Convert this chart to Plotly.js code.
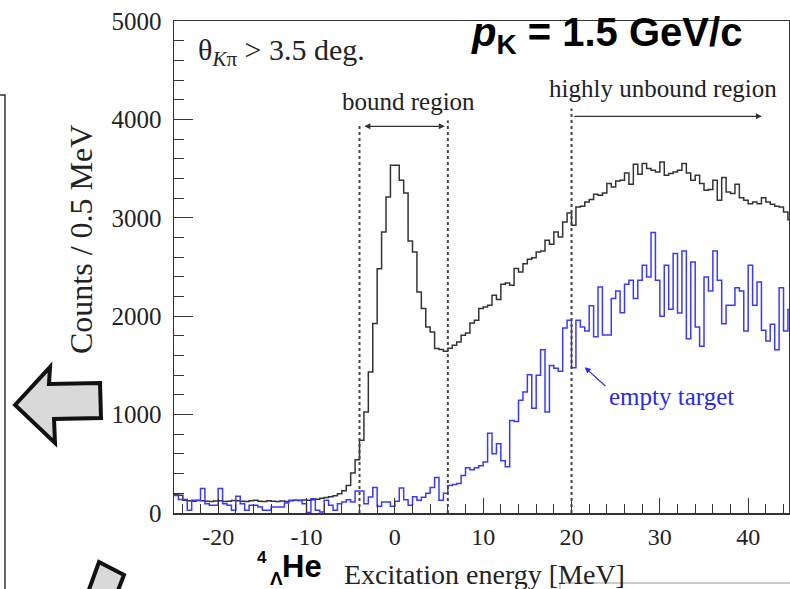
<!DOCTYPE html>
<html>
<head>
<meta charset="utf-8">
<script src="https://cdn.plot.ly/plotly-3.0.1.min.js"></script>
<style>html,body{margin:0;padding:0;background:#fff;}#chart{width:790px;height:589px;}</style>
</head>
<body>
<div id="chart"></div>
<script>
// Histogram binning: 0.5 MeV bins starting at -25 MeV
const binLow = -25;
const binWidth = 0.5;

// Target (black) histogram counts per 0.5 MeV bin, from -25 to 45 MeV
const targetCounts = [
  190,180,130,125,120,128,125,120,118,122,
  125,118,120,128,125,120,118,125,130,120,
  118,125,120,118,122,118,125,130,128,132,
  130,135,140,150,158,165,175,195,225,280,
  407,540,739,1027,1434,1925,2483,2856,3211,3533,
  3533,3381,3252,2764,2652,2246,2077,1891,1840,1671,
  1661,1644,1675,1704,1738,1806,1830,1931,1958,2077,
  2094,2111,2213,2169,2324,2338,2314,2484,2450,2534,
  2578,2595,2653,2663,2771,2730,2856,2805,2958,3050,
  2924,3110,3117,3161,3185,3240,3229,3253,3348,3314,
  3375,3381,3456,3341,3544,3442,3551,3500,3483,3466,
  3568,3432,3449,3466,3483,3551,3456,3381,3432,3348,
  3280,3287,3381,3178,3409,3263,3246,3341,3205,3178,
  3144,3161,3144,3205,3161,3137,3117,3110,3059,2981
];

// Empty target (blue) histogram counts per 0.5 MeV bin
const emptyCounts = [
  178,136,136,27,129,129,248,95,78,78,
  248,95,78,27,170,95,27,78,78,61,
  27,27,61,61,61,102,129,129,129,95,
  5,146,27,10,129,78,27,95,112,135,
  112,224,224,95,163,258,68,112,112,68,
  120,255,135,80,165,130,160,200,260,362,
  130,200,280,290,300,380,460,440,460,480,
  519,810,603,705,530,470,940,930,1145,1230,
  1405,1065,1400,1660,1027,1500,1470,1440,1880,1959,
  1475,1958,1890,1850,2105,1790,2297,1810,1810,2179,
  2255,2035,2325,2365,2179,2365,2517,2399,2850,2365,
  2000,2517,2070,2636,2033,2663,1772,2551,1890,1694,
  2399,2257,2663,2365,1924,2111,2111,2290,2257,1850,
  2517,2111,2348,1857,1748,1918,1660,2290,1850,2067
];

// Region boundaries (MeV)
const boundaries = [-4, 6, 20];
const boundaryTops = [3940, 3990, 4110];

// Axis ticks
const xTickVals = [-20, -10, 0, 10, 20, 30, 40];
const xTickText = ['-20', '-10', '0', '10', '20', '30', '40'];
const yTickVals = [0, 1000, 2000, 3000, 4000, 5000];
const yTickText = ['0', '1000', '2000', '3000', '4000', '5000'];

function stepXY(counts) {
  const xs = [], ys = [];
  for (let i = 0; i < counts.length; i++) {
    xs.push(binLow + i * binWidth);
    ys.push(counts[i]);
  }
  xs.push(binLow + counts.length * binWidth);
  ys.push(counts[counts.length - 1]);
  return {xs, ys};
}

const t = stepXY(targetCounts);
const e = stepXY(emptyCounts);

const traces = [
  {x: t.xs, y: t.ys, type: 'scatter', mode: 'lines', line: {shape: 'hv', color: '#333333', width: 1.5}, hoverinfo: 'skip'},
  {x: e.xs, y: e.ys, type: 'scatter', mode: 'lines', line: {shape: 'hv', color: '#3a3aff', width: 1.5}, hoverinfo: 'skip'}
];

// pixel -> paper helper for slide decorations
const L = 174, R = 789, T = 21, B = 513;
function px(x) { return (x - L) / (R - L); }
function py(y) { return (B - y) / (B - T); }
function pathPx(pts) {
  return 'M ' + pts.map(p => px(p[0]).toFixed(4) + ' ' + py(p[1]).toFixed(4)).join(' L ') + ' Z';
}

const serif = 'Liberation Serif, Times New Roman, serif';
const sans = 'Liberation Sans, Arial, sans-serif';

const shapes = boundaries.map((b, i) => ({
  type: 'line', xref: 'x', yref: 'y', x0: b, x1: b, y0: 0, y1: boundaryTops[i],
  line: {color: '#444', width: 2, dash: 'dot'}, layer: 'above'
}));

// left slide frame
shapes.push({type: 'path', xref: 'paper', yref: 'paper', path: 'M ' + px(0) + ' ' + py(95) + ' L ' + px(5) + ' ' + py(95) + ' L ' + px(5) + ' ' + py(600), line: {color: '#333', width: 1.5}});
// big left arrow
shapes.push({type: 'path', xref: 'paper', yref: 'paper',
  path: pathPx([[15,405],[50,367],[49,384],[100,383],[101,418],[54,419],[55,443]]),
  fillcolor: '#d9d9d9', line: {color: '#111', width: 4}});
// bottom arrow shaft
shapes.push({type: 'path', xref: 'paper', yref: 'paper',
  path: pathPx([[99,562],[124,575],[115,598],[86,598]]),
  fillcolor: '#d9d9d9', line: {color: '#111', width: 4}});
// bottom right gray box
shapes.push({type: 'rect', xref: 'paper', yref: 'paper', x0: px(560), x1: px(800), y0: py(583), y1: py(600),
  fillcolor: '#ffffff', line: {color: '#bbbbbb', width: 1.5}, layer: 'above'});

function txt(x, y, text, font, extra) {
  return Object.assign({xref: 'paper', yref: 'paper', x: px(x), y: py(y), text: text, showarrow: false,
    xanchor: 'center', yanchor: 'middle', font: font}, extra || {});
}

const annotations = [
  txt(281, 52, 'θ<sub><i>K</i>π</sub> > 3.5 deg.', {family: serif, size: 30, color: '#222'}),
  txt(606, 35, '<b><i>p</i><sub>K</sub> = 1.5 GeV/c</b>', {family: sans, size: 40, color: '#000'}),
  txt(408, 101, 'bound region', {family: serif, size: 25, color: '#222'}),
  txt(663, 89, 'highly unbound region', {family: serif, size: 25, color: '#222'}),
  {xref: 'x', yref: 'y', x: 5.66, y: 3930, ax: -3.62, ay: 3930, axref: 'x', ayref: 'y', text: '', showarrow: true,
   arrowside: 'end+start', arrowhead: 2, arrowsize: 1, arrowwidth: 1.2, arrowcolor: '#333'},
  {xref: 'x', yref: 'y', x: 41.55, y: 4031, ax: 20.15, ay: 4031, axref: 'x', ayref: 'y', text: '', showarrow: true,
   arrowhead: 2, arrowsize: 1, arrowwidth: 1.2, arrowcolor: '#333'},
  {xref: 'x', yref: 'y', x: 21.5, y: 1481, ax: 24.0, ay: 1277, axref: 'x', ayref: 'y', text: '', showarrow: true,
   arrowhead: 2, arrowsize: 1, arrowwidth: 1.2, arrowcolor: '#2a2aee'},
  txt(671, 396, 'empty target', {family: serif, size: 25, color: '#2a2aee'}),
  txt(81, 240, 'Counts / 0.5 MeV', {family: serif, size: 32, color: '#222'}, {textangle: -90}),
  txt(484, 574, 'Excitation energy [MeV]', {family: serif, size: 28, color: '#222'}),
  txt(302, 566, '<b>He</b>', {family: sans, size: 31, color: '#000'}),
  txt(262, 557, '<b>4</b>', {family: sans, size: 17, color: '#000'}),
  txt(276, 578, '<b>Λ</b>', {family: sans, size: 19, color: '#000'})
];

const layout = {
  width: 790, height: 589,
  margin: {l: 174, r: 1, t: 21, b: 76, pad: 0},
  paper_bgcolor: '#ffffff', plot_bgcolor: '#ffffff',
  showlegend: false,
  xaxis: {
    range: [-25, 44.62], showgrid: false, zeroline: false,
    showline: true, linecolor: '#333', linewidth: 1.5, mirror: true,
    ticks: 'inside', ticklen: 15, tickwidth: 1.2, tickcolor: '#333',
    tickvals: xTickVals, ticktext: xTickText,
    minor: {ticks: 'inside', ticklen: 9, dtick: 2, tick0: 0, tickcolor: '#333', tickwidth: 1},
    tickfont: {family: serif, size: 24, color: '#222'}, ticklabelstandoff: 2
  },
  yaxis: {
    range: [0, 5000], showgrid: false, zeroline: false,
    showline: true, linecolor: '#333', linewidth: 1.5, mirror: true,
    ticks: 'inside', ticklen: 19, tickwidth: 1.2, tickcolor: '#333',
    tickvals: yTickVals, ticktext: yTickText,
    minor: {ticks: 'inside', ticklen: 10, dtick: 200, tick0: 0, tickcolor: '#333', tickwidth: 1},
    tickfont: {family: serif, size: 25, color: '#222'}, ticklabelstandoff: 6
  },
  shapes: shapes,
  annotations: annotations
};

Plotly.newPlot('chart', traces, layout, {displayModeBar: false, staticPlot: true});
</script>
</body>
</html>
